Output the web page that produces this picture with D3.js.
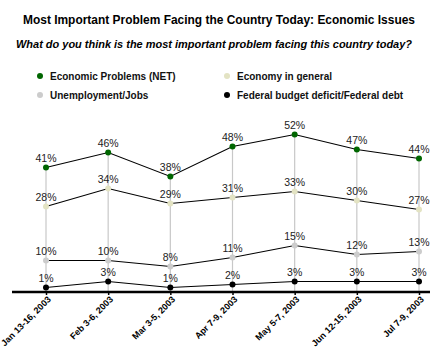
<!DOCTYPE html>
<html><head><meta charset="utf-8">
<script src="https://cdn.jsdelivr.net/npm/d3@7"></script>
<style>body{margin:0;background:#fff}svg{display:block}</style>
</head><body><svg id="c" width="440" height="350"></svg>
<script>
const dates = ["Jan 13-16, 2003","Feb 3-6, 2003","Mar 3-5, 2003","Apr 7-9, 2003","May 5-7, 2003","Jun 12-15, 2003","Jul 7-9, 2003"];
const seriesNames = ["Economic Problems (NET)","Economy in general","Unemployment/Jobs","Federal budget deficit/Federal debt"];
const netValues = [41,46,38,48,52,47,44];
const economyValues = [28,34,29,31,33,30,27];
const jobsValues = [10,10,8,11,15,12,13];
const deficitValues = [1,3,1,2,3,3,3];
const colors = ["#006600","#E3E3C3","#CCCCCC","#000000"];
const allSeries = [netValues, economyValues, jobsValues, deficitValues];

const svg = d3.select("#c");
const font = "Arial, 'Liberation Sans', sans-serif";

svg.append("text").attr("x",219).attr("y",24).attr("text-anchor","middle")
  .attr("font-family",font).attr("font-weight","bold").attr("font-size",12.5)
  .attr("textLength",392).attr("lengthAdjust","spacingAndGlyphs")
  .text("Most Important Problem Facing the Country Today: Economic Issues");
svg.append("text").attr("x",214).attr("y",48).attr("text-anchor","middle")
  .attr("font-family",font).attr("font-weight","bold").attr("font-style","italic").attr("font-size",10.8)
  .attr("textLength",396).attr("lengthAdjust","spacingAndGlyphs")
  .text("What do you think is the most important problem facing this country today?");

// legend
const legPos = [[40,76],[227,76],[40,95],[227,95]];
seriesNames.forEach((n,i)=>{
  const [lx,ly] = legPos[i];
  svg.append("circle").attr("cx",lx).attr("cy",ly).attr("r",3).attr("fill",colors[i]);
  svg.append("text").attr("x",lx+10).attr("y",ly+3.5).attr("font-family",font)
    .attr("font-weight","bold").attr("font-size",10).attr("fill","#111").text(n);
});

const x = d3.scalePoint().domain(dates).range([46,419]);
const y = d3.scaleLinear().domain([0,60]).range([290.5,110.5]);

// drop lines
const maxes = dates.map((d,i)=>d3.max(allSeries,s=>s[i]));
svg.append("g").selectAll("line").data(dates).join("line")
  .attr("x1",d=>x(d)).attr("x2",d=>x(d))
  .attr("y1",(d,i)=>y(maxes[i])).attr("y2",292)
  .attr("stroke","#c8c8c8").attr("stroke-width",1.2);

// axis
const axis = d3.axisBottom(x).tickSize(3).tickFormat(d=>d);
const ax = svg.append("g").attr("transform","translate(0,292)").call(axis);
ax.select(".domain").remove();
ax.selectAll(".tick line").attr("stroke","#000").attr("stroke-width",1.5);
ax.selectAll(".tick text").attr("font-family",font).attr("font-weight","bold").attr("font-size",9)
  .attr("fill","#000").attr("text-anchor","end").attr("dy",null).attr("y",null)
  .attr("transform","translate(5,8) rotate(-45)");
svg.append("line").attr("x1",12).attr("x2",430).attr("y1",292).attr("y2",292)
  .attr("stroke","#000").attr("stroke-width",2.5);

const line = d3.line().x((v,i)=>x(dates[i])).y(v=>y(v));
allSeries.forEach((s,k)=>{
  svg.append("path").attr("d",line(s)).attr("fill","none").attr("stroke","#000").attr("stroke-width",1.1);
});
allSeries.forEach((s,k)=>{
  const g = svg.append("g");
  g.selectAll("circle").data(s).join("circle")
    .attr("cx",(v,i)=>x(dates[i])).attr("cy",v=>y(v)).attr("r",3).attr("fill",colors[k]);
  g.selectAll("text").data(s).join("text")
    .attr("x",(v,i)=>x(dates[i])).attr("y",v=>y(v)-6).attr("text-anchor","middle")
    .attr("font-family",font).attr("font-size",10.5).attr("fill","#222").text(v=>v+"%");
});
</script></body></html>
